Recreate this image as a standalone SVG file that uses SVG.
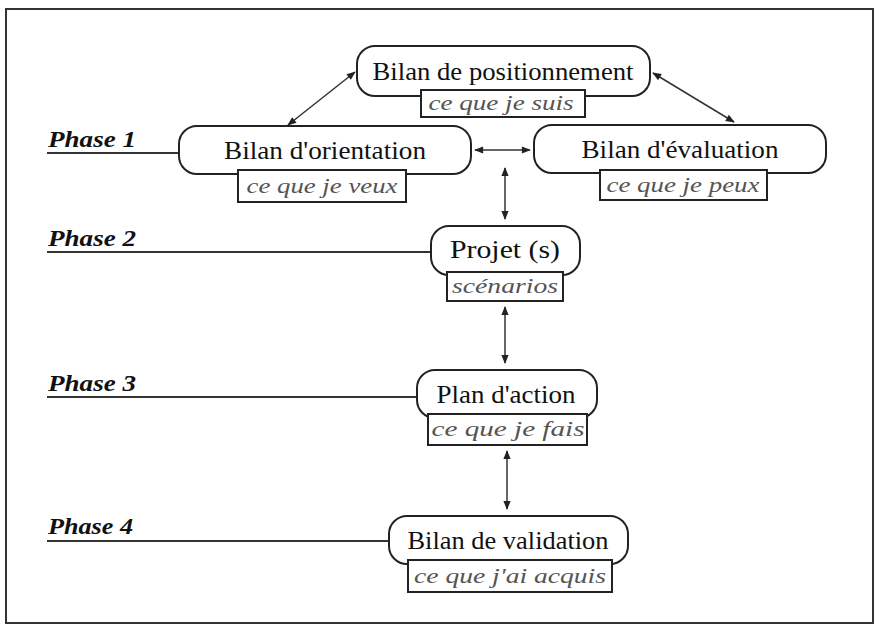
<svg xmlns="http://www.w3.org/2000/svg" width="880" height="634" viewBox="0 0 880 634">
<style>
.node{fill:#fff;stroke:#222;stroke-width:2}
.sub{fill:#fff;stroke:#222;stroke-width:2}
.main{font-family:"Liberation Serif","Times New Roman",serif;font-size:26px;fill:#111;text-anchor:middle}
.it{font-family:"Liberation Serif","Times New Roman",serif;font-style:italic;font-size:21px;fill:#555;text-anchor:middle}
.ph{font-family:"Liberation Serif","Times New Roman",serif;font-style:italic;font-weight:bold;font-size:23px;fill:#111}
.pl{stroke:#333;stroke-width:2;fill:none}
.conn{stroke:#333;stroke-width:1.5;fill:none;marker-start:url(#ah);marker-end:url(#ah)}
</style>
<defs>
<marker id="ah" viewBox="0 0 10 10" refX="9" refY="5" markerWidth="10" markerHeight="9" orient="auto-start-reverse" markerUnits="userSpaceOnUse">
<path d="M0,1 L10,5 L0,9 z" fill="#222"/>
</marker>
</defs>
<rect x="6" y="9" width="867" height="614" fill="#fff" stroke="#333" stroke-width="2"/>

<g id="phases">
<g id="phase1"><text class="ph" x="48" y="147" textLength="88" lengthAdjust="spacingAndGlyphs">Phase 1</text><line class="pl" x1="47" y1="153" x2="180" y2="153"/></g>
<g id="phase2"><text class="ph" x="48" y="246" textLength="88" lengthAdjust="spacingAndGlyphs">Phase 2</text><line class="pl" x1="47" y1="252" x2="431" y2="252"/></g>
<g id="phase3"><text class="ph" x="48" y="391" textLength="88" lengthAdjust="spacingAndGlyphs">Phase 3</text><line class="pl" x1="47" y1="397" x2="417" y2="397"/></g>
<g id="phase4"><text class="ph" x="48" y="534" textLength="85" lengthAdjust="spacingAndGlyphs">Phase 4</text><line class="pl" x1="47" y1="541" x2="389" y2="541"/></g>
</g>

<g id="connectors">
<line class="conn" x1="288" y1="125" x2="355" y2="72"/>
<line class="conn" x1="653" y1="73" x2="734" y2="122"/>
<line class="conn" x1="475" y1="150" x2="530" y2="150"/>
<line class="conn" x1="505" y1="168" x2="505" y2="219"/>
<line class="conn" x1="505" y1="307" x2="505" y2="363"/>
<line class="conn" x1="507" y1="451" x2="507" y2="509"/>
</g>

<g id="positionnement">
<rect class="node" x="357" y="46" width="293" height="50" rx="18"/>
<text class="main" x="503" y="80" textLength="261" lengthAdjust="spacingAndGlyphs">Bilan de positionnement</text>
<rect class="sub" x="421" y="90" width="164" height="27"/>
<text class="it" x="501" y="110" textLength="145" lengthAdjust="spacingAndGlyphs">ce que je suis</text>
</g>

<g id="orientation">
<rect class="node" x="179" y="126" width="292" height="48" rx="18"/>
<text class="main" x="325" y="159" textLength="202" lengthAdjust="spacingAndGlyphs">Bilan d'orientation</text>
<rect class="sub" x="238" y="170" width="168" height="32"/>
<text class="it" x="322" y="193" textLength="151" lengthAdjust="spacingAndGlyphs">ce que je veux</text>
</g>

<g id="evaluation">
<rect class="node" x="534" y="125" width="292" height="48" rx="18"/>
<text class="main" x="680" y="158" textLength="197" lengthAdjust="spacingAndGlyphs">Bilan d'évaluation</text>
<rect class="sub" x="600" y="170" width="167" height="30"/>
<text class="it" x="683" y="192" textLength="153" lengthAdjust="spacingAndGlyphs">ce que je peux</text>
</g>

<g id="projet">
<rect class="node" x="431" y="226" width="149" height="49" rx="18"/>
<text class="main" x="505" y="258" textLength="110" lengthAdjust="spacingAndGlyphs">Projet (s)</text>
<rect class="sub" x="447" y="272" width="116" height="29"/>
<text class="it" x="505" y="293" textLength="106" lengthAdjust="spacingAndGlyphs">scénarios</text>
</g>

<g id="plan">
<rect class="node" x="417" y="370" width="180" height="48" rx="18"/>
<text class="main" x="506" y="403" textLength="139" lengthAdjust="spacingAndGlyphs">Plan d'action</text>
<rect class="sub" x="428" y="414" width="159" height="31"/>
<text class="it" x="508" y="436" textLength="153" lengthAdjust="spacingAndGlyphs">ce que je fais</text>
</g>

<g id="validation">
<rect class="node" x="389" y="516" width="239" height="48" rx="18"/>
<text class="main" x="508" y="549" textLength="201" lengthAdjust="spacingAndGlyphs">Bilan de validation</text>
<rect class="sub" x="408" y="560" width="204" height="32"/>
<text class="it" x="510" y="583" textLength="192" lengthAdjust="spacingAndGlyphs">ce que j'ai acquis</text>
</g>
</svg>
